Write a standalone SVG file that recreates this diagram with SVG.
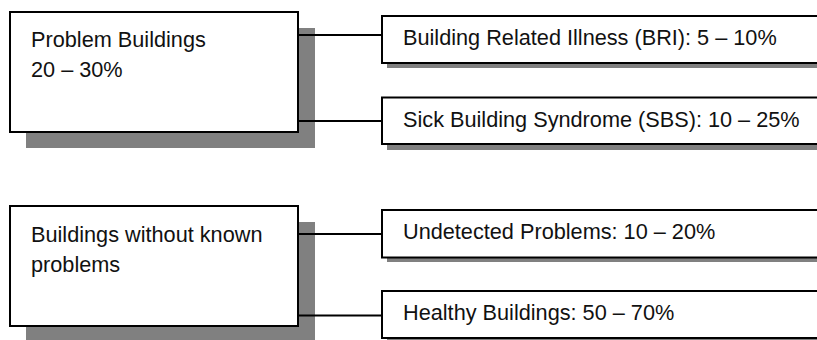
<svg xmlns="http://www.w3.org/2000/svg" width="817" height="340" viewBox="0 0 817 340">
<style>
.box{fill:#fff;stroke:#000;stroke-width:2}
.sh{fill:#808080}
.t{font-family:"Liberation Sans",Arial,sans-serif;font-size:21.7px;fill:#111}
.c{stroke:#000;stroke-width:2;fill:none}
</style>
<rect width="817" height="340" fill="#fff"/>
<g id="problem-buildings">
<rect class="sh" x="26" y="28" width="289" height="120"/>
<rect class="box" x="10" y="12" width="288" height="120"/>
<text class="t" x="31" y="47">Problem Buildings</text>
<text class="t" x="31" y="77">20 – 30%</text>
</g>
<g id="bri">
<rect class="sh" x="387" y="21" width="440" height="47"/>
<rect class="box" x="382" y="16" width="440" height="47"/>
<text class="t" x="403" y="45">Building Related Illness (BRI): 5 – 10%</text>
</g>
<g id="sbs">
<rect class="sh" x="387" y="103" width="440" height="47"/>
<rect class="box" x="382" y="97.5" width="440" height="46.5"/>
<text class="t" x="403" y="127">Sick Building Syndrome (SBS): 10 – 25%</text>
</g>
<g id="no-known-problems">
<rect class="sh" x="26" y="222" width="289" height="120"/>
<rect class="box" x="10" y="206" width="288" height="120"/>
<text class="t" x="31" y="242">Buildings without known</text>
<text class="t" x="31" y="272">problems</text>
</g>
<g id="undetected">
<rect class="sh" x="387" y="215" width="440" height="47"/>
<rect class="box" x="382" y="210" width="440" height="47.5"/>
<text class="t" x="403" y="239">Undetected Problems: 10 – 20%</text>
</g>
<g id="healthy">
<rect class="sh" x="387" y="296" width="440" height="47"/>
<rect class="box" x="382" y="291" width="440" height="47"/>
<text class="t" x="403" y="320">Healthy Buildings: 50 – 70%</text>
</g>
<g id="connectors">
<line class="c" x1="298" y1="35" x2="382" y2="35"/>
<line class="c" x1="298" y1="121" x2="382" y2="121"/>
<line class="c" x1="298" y1="234" x2="382" y2="234"/>
<line class="c" x1="298" y1="315.5" x2="382" y2="315.5"/>
</g>
</svg>
